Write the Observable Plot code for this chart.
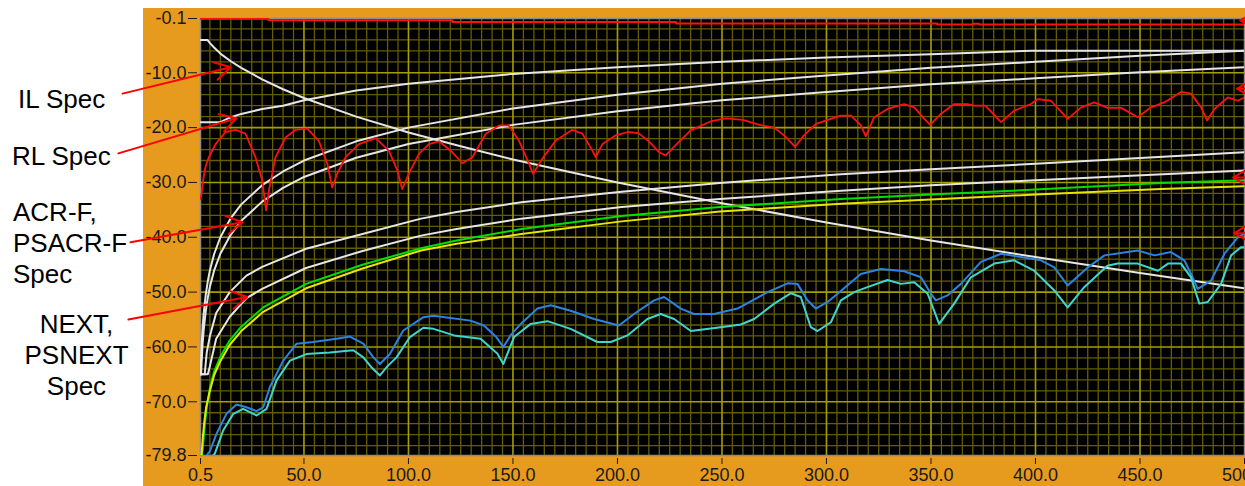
<!DOCTYPE html>
<html><head><meta charset="utf-8">
<script src="https://cdn.jsdelivr.net/npm/d3@7"></script>
<script src="https://cdn.jsdelivr.net/npm/@observablehq/plot@0.6"></script>
<style>
html,body{margin:0;padding:0;overflow:hidden;background:#fff;}
#wrap{position:relative;width:1245px;height:486px;overflow:hidden;font-family:"Liberation Sans",Arial,sans-serif;}
#panel{position:absolute;left:143px;top:8px;width:1102px;height:478px;background:#E69A1E;}
#chart{position:absolute;left:0;top:0;}
.lab{position:absolute;font-size:26px;line-height:31px;color:#000;white-space:nowrap;}
</style></head><body>
<div id="wrap">
  <div id="panel"></div>
  <div id="chart"></div>
  <div class="lab" style="left:18px;top:84px;">IL Spec</div>
  <div class="lab" style="left:12px;top:141px;">RL Spec</div>
  <div class="lab" style="left:13px;top:197px;">ACR-F,<br>PSACR-F<br>Spec</div>
  <div class="lab" style="left:0px;top:309px;width:153px;text-align:center;">NEXT,<br>PSNEXT<br>Spec</div>
</div>
<script>
// ---- axes / ticks ----
const xTicks = [0.5, 50, 100, 150, 200, 250, 300, 350, 400, 450, 500];
const yTicks = [-0.1, -10, -20, -30, -40, -50, -60, -70, -79.8];
const xMajorGrid = [50, 100, 150, 200, 250, 300, 350, 400, 450];
const yMajorGrid = [-10, -20, -30, -40, -50, -60, -70];

// ---- series: [frequency MHz, dB] ----
const ilMeasured = [[0.5,-0.16],[33,-0.4],[121,-0.75],[228,-1.0],[353,-1.2],[370,-1.05],[373,-1.2],[500,-1.25]];

const ilSpec = [[0.5,-4.0],[3.8,-4.0],[5,-4.6],[7,-5.4],[10,-6.5],[15,-7.9],[20,-9.1],[30,-11.2],[40,-13.0],[50,-14.6],[75,-18.0],[100,-20.9],[125,-23.4],[150,-25.8],[200,-30.0],[250,-33.8],[300,-37.3],[350,-40.6],[400,-43.6],[450,-46.5],[500,-49.3]];

const rlSpec = [[0.5,-19],[10,-19],[15,-18.1],[20,-17.5],[30,-16.6],[40,-16.0],[50,-15.0],[75,-13.25],[100,-12.0],[150,-10.2],[200,-9.0],[250,-8.0],[300,-7.2],[350,-6.6],[398,-6.0],[500,-6.0]];

const acrfSpec = [[0.5,-65],[0.56,-65],[0.7,-63.1],[1,-60],[1.5,-56.5],[2,-54],[3,-50.5],[4,-48],[5,-46],[7,-43.1],[10,-40],[15,-36.5],[20,-34],[30,-30.5],[40,-28],[50,-26],[75,-22.5],[100,-20],[150,-16.5],[200,-14],[250,-12],[300,-10.5],[350,-9.1],[400,-8],[450,-6.9],[500,-6]];

const psacrfSpec = [[0.5,-65],[0.79,-65],[1,-63],[1.5,-59.5],[2,-57],[3,-53.5],[4,-51],[5,-49],[7,-46.1],[10,-43],[15,-39.5],[20,-37],[30,-33.5],[40,-31],[50,-29],[75,-25.5],[100,-23],[150,-19.5],[200,-17],[250,-15],[300,-13.5],[350,-12.1],[400,-11],[450,-9.9],[500,-9]];

const nextSpec = [[0.5,-65],[2.5,-65],[3.5,-61],[5,-58],[8,-53.8],[14.5,-50],[22.5,-47],[30,-45.4],[51,-42.1],[78,-39.4],[106,-36.6],[123,-35.4],[154,-33.6],[202,-31.7],[249,-30.1],[307,-28.5],[350,-27.6],[400,-26.6],[461,-25.3],[500,-24.5]];

const psnextSpec = [[0.5,-65],[4,-65],[5,-63.5],[8,-58.5],[14.5,-54.5],[22.5,-51.1],[30,-49.4],[51,-45.6],[78,-42.5],[106,-39.7],[123,-38.5],[154,-36.6],[202,-34.5],[249,-33.0],[307,-31.5],[350,-30.5],[400,-29.6],[461,-28.5],[500,-27.8]];

const greenTrace = [[0.5,-79.8],[1.2,-79.8],[1.8,-77.5],[2.5,-74.5],[3.5,-71],[5,-67.5],[7,-64.5],[10,-61.8],[14.5,-58.8],[20,-56.3],[30.5,-52.8],[51,-48.5],[78,-45],[106,-42],[123,-40.6],[154,-38.5],[202,-36.1],[249,-34.5],[307,-33.0],[350,-32.2],[400,-31.3],[460,-30.1],[500,-29.6]];

const yellowTrace = [[0.5,-79.8],[1.0,-79.8],[1.5,-77],[2.2,-74],[3.2,-71],[5,-68],[7,-65.2],[10,-62.6],[14.5,-59.6],[20,-57.1],[30.5,-53.6],[51,-49.3],[78,-45.7],[106,-42.4],[123,-41.2],[154,-39.4],[202,-37.1],[249,-35.3],[307,-33.9],[350,-33.1],[400,-32.2],[460,-31.2],[500,-30.7]];

const blueTrace = [[3.4,-79.8],[5,-79.0],[8.2,-75.8],[12.9,-72.2],[17.7,-70.5],[22.5,-71.0],[27.3,-71.7],[30.5,-71.0],[33.7,-67.3],[40.1,-62.5],[46.5,-59.4],[54.4,-59.1],[65.6,-58.5],[72,-58.1],[78.4,-59.4],[83.2,-61.9],[86.3,-63.1],[91.1,-61.3],[97.5,-57.0],[107,-54.6],[112,-54.3],[129.7,-55.2],[136.1,-56.1],[142,-58.2],[145.4,-60.0],[149,-57.8],[153.7,-55.8],[161.7,-53.0],[168.1,-52.4],[177.6,-53.4],[188.8,-54.9],[200.7,-56.1],[207.9,-54.0],[217.5,-51.5],[222.3,-50.9],[230.3,-53.0],[236.6,-54.0],[246.2,-54.0],[257.4,-53.0],[271.8,-50.0],[281.4,-48.4],[286.1,-48.5],[290.9,-51.5],[294.9,-53.0],[300.5,-51.8],[305.3,-50.3],[316.4,-46.7],[326,-45.8],[337.2,-46.2],[345.2,-47.3],[350,-50.3],[352.3,-51.5],[357.9,-50.6],[364.3,-48.5],[373.9,-44.5],[383.5,-43.0],[393,-43.6],[402.6,-44.2],[409,-45.5],[415.4,-48.8],[425,-45.5],[433,-43.3],[448.9,-42.4],[457,-43.3],[464.8,-42.7],[471.2,-44.2],[475.2,-47.3],[477.6,-49.4],[484,-47.9],[490.4,-43.0],[496.8,-40.0],[500,-39.3]];

const cyanTrace = [[6.5,-79.8],[7.3,-79.5],[11.4,-75.2],[16.2,-72.2],[20.9,-71.3],[27.3,-72.5],[32.1,-71.3],[36.9,-66.1],[43.3,-62.5],[51.2,-61.3],[62.4,-61.0],[73.6,-60.6],[78.4,-61.9],[82.5,-63.8],[86.3,-65.2],[90,-63.5],[94.3,-61.9],[100.7,-58.2],[107.1,-56.5],[112,-56.7],[121.8,-57.9],[134.5,-58.5],[142.5,-61.2],[145.4,-63.1],[150.5,-58.2],[158.5,-55.8],[166.5,-55.3],[177.6,-56.7],[190.4,-59.1],[196.8,-59.1],[204.8,-57.9],[214.3,-54.9],[220.7,-54.0],[227.1,-54.9],[235.1,-57.1],[249.4,-56.4],[259,-55.9],[265.4,-54.9],[275,-52.1],[283,-50.2],[287.7,-50.9],[292.5,-56.4],[295.7,-57.1],[302.1,-55.5],[306.9,-51.5],[313.2,-50.0],[319.6,-49.1],[329.2,-47.8],[335.6,-48.5],[342,-48.2],[348.4,-50.3],[353.9,-55.8],[361.1,-52.1],[369.1,-47.3],[380.3,-44.8],[389.8,-44.2],[399.4,-46.1],[409,-49.7],[415.4,-52.8],[423.3,-49.1],[434.4,-45.2],[439.3,-44.8],[448.9,-44.8],[458.6,-46.1],[463.4,-44.8],[469.6,-44.8],[474.4,-47.3],[478.4,-52.1],[482.4,-51.8],[488.8,-48.5],[493.6,-43.3],[498.3,-41.8],[500,-41.8]];

const rlMeasured = [[0.5,-33.0],[0.98,-32.1],[2,-29],[3,-27],[4.5,-25.4],[7.7,-23.0],[12.5,-20.8],[17.3,-20.4],[22,-21.1],[26.8,-25.4],[30,-29.6],[31.9,-35.1],[33.5,-30.9],[36.4,-25.4],[41.2,-21.8],[46,-20.4],[51.6,-20.2],[57.1,-22.4],[61.2,-26.6],[63.5,-30.9],[65.9,-28.4],[69.9,-25.4],[76.3,-23.0],[84.3,-21.9],[90.6,-24.2],[94.7,-27.8],[97,-31.2],[100.2,-28.4],[105,-24.8],[109.8,-23.0],[114.6,-22.5],[121,-24.5],[125.8,-26.5],[130.6,-25.4],[137,-21.1],[143.4,-19.6],[148,-19.6],[152.9,-22.4],[157.7,-26.6],[159.6,-28.4],[164,-25.7],[170.4,-22.4],[178.4,-20.4],[183.2,-21.1],[188,-24.2],[189.6,-25.4],[192.8,-23.0],[199.2,-21.4],[205,-20.8],[210,-21.0],[215,-22.5],[220,-24.5],[223,-25.1],[227,-23.5],[235,-20.5],[245,-18.8],[252,-18.3],[260,-18.6],[268,-19.5],[275,-20.0],[280,-21.5],[285,-23.5],[289,-21.5],[295,-19.3],[302.1,-18.4],[306.9,-17.8],[311.7,-17.8],[316.5,-19.6],[318.8,-21.6],[322.8,-18.1],[329.2,-16.6],[337.2,-15.7],[342,-16.3],[346.8,-18.4],[349.6,-19.5],[354.7,-17.5],[361.1,-15.7],[367.5,-15.7],[370.7,-16.0],[376,-16.0],[383.5,-19.0],[389.8,-16.9],[397.8,-15.7],[401,-14.8],[407.4,-15.1],[415.4,-18.4],[421.8,-16.3],[428.1,-15.4],[434.5,-16.4],[441,-16.4],[448.9,-18.1],[455.3,-16.3],[461.6,-15.4],[469.6,-13.5],[474.4,-13.8],[479.2,-16.3],[482.1,-18.7],[485.6,-16.6],[492,-14.5],[496.8,-15.1],[500,-14.5]];

// ---- annotation arrows in data coordinates: [x1, y1, x2(tip), y2(tip)] ----
const leftArrows = [[-36.8,-13.8,14.9,-9.0],[-38.8,-24.7,17.7,-18.3],[-33.0,-40.9,20.6,-37.25],[-34.0,-55.0,22.85,-50.9]];
const rightArrows = [[540,-0.46,497.9,-0.46],[540,-12.9,496.4,-12.9],[540,-29.1,494.5,-29.1],[540,-38.6,495,-39.3]];

// grid minor lines
const xMinorGrid = d3.range(5, 500, 5).filter(v => v % 50 !== 0);
const yMinorGrid = d3.range(-78, 0, 2).filter(v => v % 10 !== 0);

const minorC = "#635d00", majorC = "#a69e00";
const L = (data, stroke, sw = 2, curve = "linear") =>
  Plot.line(data, {x: d => d[0], y: d => d[1], stroke, strokeWidth: sw, curve, clip: true});
const A = (data) => Plot.arrow(data, {x1: d => d[0], y1: d => d[1], x2: d => d[2], y2: d => d[3],
  stroke: "#ff0000", strokeWidth: 2, headLength: 13.5, headAngle: 60});

const chart = Plot.plot({
  width: 1245, height: 486,
  marginLeft: 200, marginRight: 1, marginTop: 18, marginBottom: 31,
  x: {domain: [0.5, 500]},
  y: {domain: [-79.8, -0.1]},
  style: {background: "transparent", fontFamily: "Liberation Sans, Arial, sans-serif", fontSize: "18px", color: "#1a1a1a", overflow: "visible"},
  marks: [
    Plot.frame({fill: "black"}),
    Plot.ruleX(xMinorGrid, {stroke: minorC, strokeWidth: 1.3}),
    Plot.ruleY(yMinorGrid, {stroke: minorC, strokeWidth: 1.3}),
    Plot.ruleX(xMajorGrid, {stroke: majorC, strokeWidth: 1.6}),
    Plot.ruleY(yMajorGrid, {stroke: majorC, strokeWidth: 1.6}),
    Plot.frame({stroke: "#8c8c8c", strokeWidth: 1.5}),
    Plot.axisX({ticks: xTicks, tickFormat: d => d.toFixed(1), tickSize: 6, tickPadding: 4, dy: 3, label: null}),
    Plot.axisY({ticks: yTicks, tickFormat: d => d.toFixed(1), tickSize: 9, tickPadding: 2, dx: -3, label: null}),
    L(ilSpec, "#e6e6e6"),
    L(rlSpec, "#e6e6e6"),
    L(acrfSpec, "#e6e6e6"),
    L(psacrfSpec, "#e6e6e6"),
    L(nextSpec, "#e6e6e6"),
    L(psnextSpec, "#e6e6e6"),
    L(greenTrace, "#00e000"),
    L(yellowTrace, "#e6e600"),
    L(blueTrace, "#2a84e0"),
    L(cyanTrace, "#3fd6d0"),
    L(rlMeasured, "#ff1010", 1.8),
    L(ilMeasured, "#ff1010", 2, "step-after"),
    A(leftArrows),
    A(rightArrows)
  ]
});
document.getElementById("chart").appendChild(chart);
</script>
</body></html>
